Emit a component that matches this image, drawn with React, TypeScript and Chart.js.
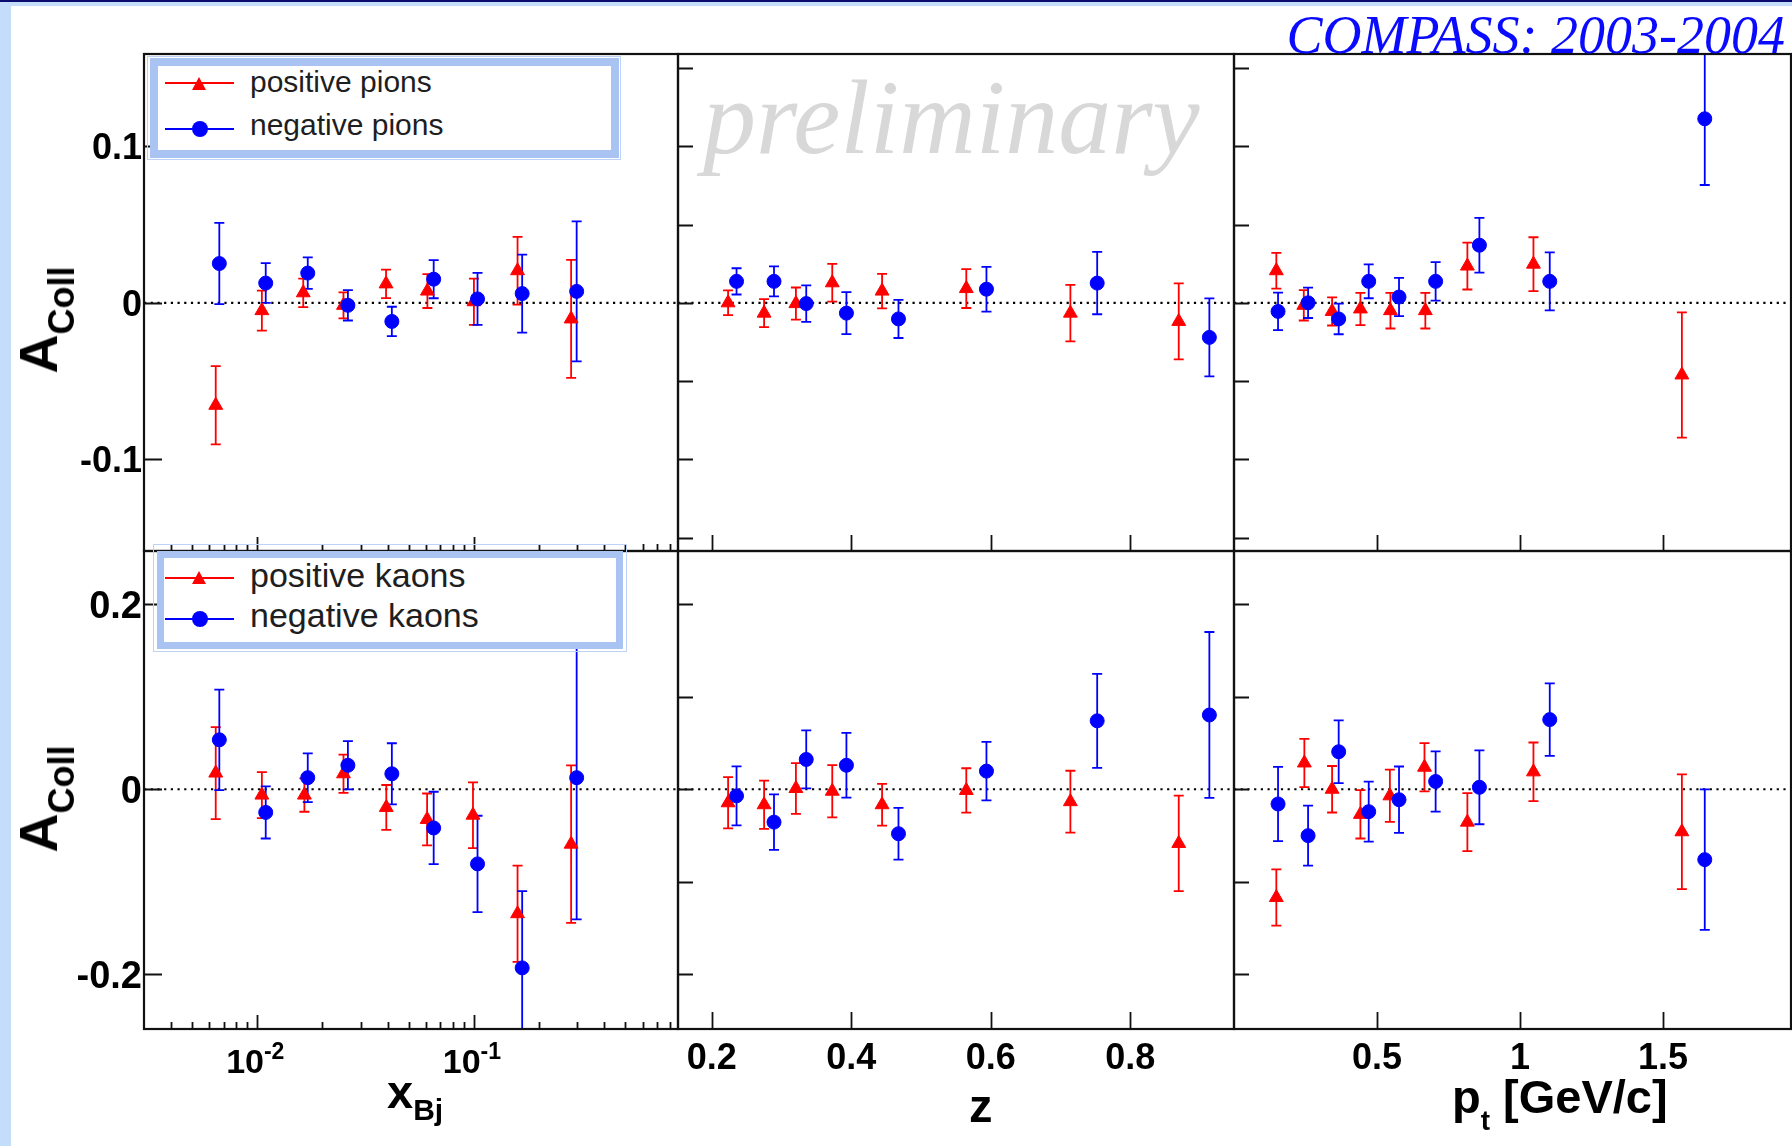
import React, { useEffect, useRef } from 'react';
import { Chart, registerables } from 'chart.js';

Chart.register(...registerables);

type Pt = [number, number, number]; // [x, A_Coll, error]

// ---------- pions ----------
const piPlusXbj: Pt[] = [
  [0.00643, -0.0655, 0.025],
  [0.0105, -0.005, 0.0128],
  [0.0163, 0.0064, 0.0091],
  [0.025, -0.0016, 0.0083],
  [0.0393, 0.0121, 0.0091],
  [0.061, 0.0075, 0.0108],
  [0.1, 0.0007, 0.0148],
  [0.159, 0.0205, 0.0217],
  [0.281, -0.0103, 0.0377],
];
const piMinusXbj: Pt[] = [
  [0.00668, 0.0251, 0.026],
  [0.01094, 0.0126, 0.0127],
  [0.0171, 0.019, 0.0101],
  [0.0262, -0.0016, 0.0097],
  [0.0418, -0.0119, 0.0094],
  [0.0652, 0.0151, 0.0122],
  [0.1039, 0.0025, 0.0166],
  [0.167, 0.0059, 0.0249],
  [0.298, 0.0073, 0.0447],
];
const piPlusZ: Pt[] = [
  [0.2235, 0.0, 0.0079],
  [0.2751, -0.0066, 0.009],
  [0.3207, -0.0005, 0.0103],
  [0.3728, 0.0128, 0.0121],
  [0.4442, 0.0075, 0.011],
  [0.5649, 0.0091, 0.0124],
  [0.7141, -0.0066, 0.018],
  [0.8694, -0.0119, 0.0243],
];
const piMinusZ: Pt[] = [
  [0.2356, 0.0137, 0.0084],
  [0.2893, 0.0137, 0.0096],
  [0.3355, -0.0005, 0.0117],
  [0.3931, -0.0066, 0.0134],
  [0.4677, -0.0103, 0.0122],
  [0.5938, 0.0087, 0.0143],
  [0.7525, 0.0126, 0.0199],
  [0.9133, -0.0221, 0.0249],
];
const piPlusPt: Pt[] = [
  [0.148, 0.0205, 0.0114],
  [0.244, -0.0016, 0.0097],
  [0.343, -0.0055, 0.009],
  [0.442, -0.0039, 0.0103],
  [0.547, -0.005, 0.0114],
  [0.669, -0.005, 0.0114],
  [0.816, 0.0235, 0.015],
  [1.047, 0.0247, 0.0172],
  [1.566, -0.0461, 0.04],
];
const piMinusPt: Pt[] = [
  [0.154, -0.0055, 0.012],
  [0.259, 0.0, 0.0097],
  [0.366, -0.0103, 0.0098],
  [0.471, 0.0137, 0.0108],
  [0.577, 0.0037, 0.0122],
  [0.705, 0.0137, 0.0123],
  [0.858, 0.0368, 0.0175],
  [1.104, 0.0137, 0.0185],
  [1.646, 0.1176, 0.0423],
];

// ---------- kaons ----------
const kPlusXbj: Pt[] = [
  [0.00643, 0.0175, 0.0497],
  [0.0105, -0.0063, 0.0249],
  [0.0165, -0.0063, 0.018],
  [0.025, 0.0167, 0.0207],
  [0.0394, -0.0196, 0.0242],
  [0.0608, -0.0326, 0.028],
  [0.099, -0.028, 0.0355],
  [0.159, -0.1344, 0.052],
  [0.281, -0.0593, 0.085],
];
const kMinusXbj: Pt[] = [
  [0.00668, 0.0534, 0.0543],
  [0.01094, -0.025, 0.0282],
  [0.0171, 0.0125, 0.0263],
  [0.0262, 0.0259, 0.0261],
  [0.0418, 0.0167, 0.033],
  [0.0652, -0.0418, 0.0391],
  [0.1039, -0.0806, 0.052],
  [0.167, -0.1929, 0.083],
  [0.298, 0.0125, 0.153],
];
const kPlusZ: Pt[] = [
  [0.2235, -0.0146, 0.0276],
  [0.2751, -0.0167, 0.0261],
  [0.3207, 0.0008, 0.0274],
  [0.3728, -0.0021, 0.0282],
  [0.4442, -0.0167, 0.0226],
  [0.5649, -0.0013, 0.024],
  [0.7141, -0.0134, 0.0334],
  [0.8694, -0.0585, 0.0516],
];
const kMinusZ: Pt[] = [
  [0.2356, -0.0071, 0.0318],
  [0.2893, -0.0355, 0.03],
  [0.3355, 0.0322, 0.0313],
  [0.3931, 0.0259, 0.0349],
  [0.4677, -0.048, 0.028],
  [0.5938, 0.0196, 0.0316],
  [0.7525, 0.0739, 0.0508],
  [0.9133, 0.0802, 0.0896],
];
const kPlusPt: Pt[] = [
  [0.148, -0.1169, 0.0303],
  [0.246, 0.0284, 0.0261],
  [0.343, 0.0, 0.0251],
  [0.442, -0.0271, 0.0261],
  [0.545, -0.0071, 0.0282],
  [0.666, 0.0238, 0.0261],
  [0.816, -0.0355, 0.0313],
  [1.047, 0.0188, 0.0317],
  [1.566, -0.0459, 0.0619],
];
const kMinusPt: Pt[] = [
  [0.154, -0.0159, 0.0401],
  [0.259, -0.0501, 0.0324],
  [0.366, 0.0405, 0.0338],
  [0.471, -0.0242, 0.0324],
  [0.577, -0.0113, 0.0359],
  [0.705, 0.0084, 0.0326],
  [0.858, 0.0021, 0.0399],
  [1.104, 0.0752, 0.0391],
  [1.646, -0.076, 0.0758],
];

// ---------- axes ----------
const pionYLabels = [-0.1, 0, 0.1];
const pionYTicks = [-0.15, -0.1, -0.05, 0, 0.05, 0.1, 0.15];
const kaonYLabels = [-0.2, 0, 0.2];
const kaonYTicks = [-0.2, -0.1, 0, 0.1, 0.2];
const pionYRange = [-0.1586, 0.159];
const kaonYRange = [-0.2589, 0.2573];
const xbjRange = [0.003, 0.875];
const zRange = [0.1517, 0.9486];
const ptRange = [0, 1.9475];
const xbjMajor = [0.01, 0.1];
const xbjMinor = [0.004, 0.005, 0.006, 0.007, 0.008, 0.009, 0.02, 0.03, 0.04, 0.05, 0.06, 0.07, 0.08, 0.09, 0.2, 0.3, 0.4, 0.5, 0.6, 0.7, 0.8];
const zTicks = [0.2, 0.4, 0.6, 0.8];
const ptTicks = [0.5, 1, 1.5];

const pionNames = ['positive pions', 'negative pions'];
const kaonNames = ['positive kaons', 'negative kaons'];

// ---------- style / layout ----------
const RED = '#ff0000';
const BLUE = '#0000ff';
const SANS = "'Liberation Sans', Arial, Helvetica, sans-serif";
const SERIF = "'Liberation Serif', 'Times New Roman', Times, serif";
const PAGE_W = 1792;
const PAGE_H = 1146;
const LIGHT = '#c3ddfa';
const NAVY = '#0c0c70';
const BAND = '#a9c3f2';
const THIN = '#bcd2f6';

interface PanelCfg {
  id: string;
  box: { l: number; t: number; r: number; b: number };
  xType: 'linear' | 'logarithmic';
  xr: number[];
  yr: number[];
  pos: Pt[];
  neg: Pt[];
  names: string[];
  yTicks: number[];
  yLabels: number[] | null;
  yLabelSize: number;
  yTickLen: number;
  xMajor: number[];
  xMinor: number[];
  xMajorLen: number;
  xMinorLen: number;
  xLabelMode: 'none' | 'axis' | 'log';
}

const COLS = [
  { l: 144, r: 678 },
  { l: 678, r: 1234 },
  { l: 1234, r: 1791 },
];
const ROWS = [
  { t: 54, b: 551 },
  { t: 551, b: 1029 },
];

const PANELS: PanelCfg[] = [
  {
    id: 'pi-xbj', box: { ...COLS[0], ...ROWS[0] }, xType: 'logarithmic', xr: xbjRange, yr: pionYRange,
    pos: piPlusXbj, neg: piMinusXbj, names: pionNames, yTicks: pionYLabels, yLabels: pionYLabels, yLabelSize: 36,
    yTickLen: 18, xMajor: xbjMajor, xMinor: xbjMinor, xMajorLen: 14, xMinorLen: 7, xLabelMode: 'none',
  },
  {
    id: 'pi-z', box: { ...COLS[1], ...ROWS[0] }, xType: 'linear', xr: zRange, yr: pionYRange,
    pos: piPlusZ, neg: piMinusZ, names: pionNames, yTicks: pionYTicks, yLabels: null, yLabelSize: 36,
    yTickLen: 15, xMajor: zTicks, xMinor: [], xMajorLen: 16, xMinorLen: 0, xLabelMode: 'none',
  },
  {
    id: 'pi-pt', box: { ...COLS[2], ...ROWS[0] }, xType: 'linear', xr: ptRange, yr: pionYRange,
    pos: piPlusPt, neg: piMinusPt, names: pionNames, yTicks: pionYTicks, yLabels: null, yLabelSize: 36,
    yTickLen: 15, xMajor: ptTicks, xMinor: [], xMajorLen: 16, xMinorLen: 0, xLabelMode: 'none',
  },
  {
    id: 'k-xbj', box: { ...COLS[0], ...ROWS[1] }, xType: 'logarithmic', xr: xbjRange, yr: kaonYRange,
    pos: kPlusXbj, neg: kMinusXbj, names: kaonNames, yTicks: kaonYLabels, yLabels: kaonYLabels, yLabelSize: 38,
    yTickLen: 18, xMajor: xbjMajor, xMinor: xbjMinor, xMajorLen: 14, xMinorLen: 7, xLabelMode: 'log',
  },
  {
    id: 'k-z', box: { ...COLS[1], ...ROWS[1] }, xType: 'linear', xr: zRange, yr: kaonYRange,
    pos: kPlusZ, neg: kMinusZ, names: kaonNames, yTicks: kaonYTicks, yLabels: null, yLabelSize: 38,
    yTickLen: 15, xMajor: zTicks, xMinor: [], xMajorLen: 17, xMinorLen: 0, xLabelMode: 'axis',
  },
  {
    id: 'k-pt', box: { ...COLS[2], ...ROWS[1] }, xType: 'linear', xr: ptRange, yr: kaonYRange,
    pos: kPlusPt, neg: kMinusPt, names: kaonNames, yTicks: kaonYTicks, yLabels: null, yLabelSize: 38,
    yTickLen: 15, xMajor: ptTicks, xMinor: [], xMajorLen: 17, xMinorLen: 0, xLabelMode: 'axis',
  },
];

function fmt(v: number): string {
  return String(+v.toFixed(3));
}

function panelPlugin(p: PanelCfg) {
  return {
    id: 'panel-' + p.id,
    beforeDatasetsDraw(chart: any) {
      const { ctx, chartArea: a } = chart;
      const xs = chart.scales.x;
      const ys = chart.scales.y;
      ctx.save();
      ctx.beginPath();
      ctx.rect(a.left, a.top, a.right - a.left, a.bottom - a.top);
      ctx.clip();
      // dotted zero line
      const y0 = ys.getPixelForValue(0);
      ctx.strokeStyle = '#000';
      ctx.lineWidth = 2.2;
      ctx.setLineDash([2.2, 4.5]);
      ctx.beginPath();
      ctx.moveTo(a.left, y0);
      ctx.lineTo(a.right, y0);
      ctx.stroke();
      ctx.setLineDash([]);
      // error bars (positive first, then negative)
      for (const i of [1, 0]) {
        const ds = chart.data.datasets[i];
        ctx.strokeStyle = ds.borderColor;
        ctx.lineWidth = 1.8;
        ctx.beginPath();
        for (const d of ds.data) {
          const px = xs.getPixelForValue(d.x);
          const pTop = ys.getPixelForValue(d.y + d.e);
          const pBot = ys.getPixelForValue(d.y - d.e);
          ctx.moveTo(px, pTop);
          ctx.lineTo(px, pBot);
          ctx.moveTo(px - 5, pTop);
          ctx.lineTo(px + 5, pTop);
          ctx.moveTo(px - 5, pBot);
          ctx.lineTo(px + 5, pBot);
        }
        ctx.stroke();
      }
      ctx.restore();
    },
    afterDraw(chart: any) {
      const { ctx, chartArea: a } = chart;
      const xs = chart.scales.x;
      const ys = chart.scales.y;
      ctx.save();
      ctx.strokeStyle = '#111';
      ctx.lineWidth = 1.8;
      ctx.beginPath();
      for (const v of p.yTicks) {
        const y = Math.round(ys.getPixelForValue(v)) + 0.5;
        ctx.moveTo(a.left, y);
        ctx.lineTo(a.left + p.yTickLen, y);
      }
      for (const v of p.xMajor) {
        const x = Math.round(xs.getPixelForValue(v)) + 0.5;
        ctx.moveTo(x, a.bottom);
        ctx.lineTo(x, a.bottom - p.xMajorLen);
      }
      for (const v of p.xMinor) {
        const x = Math.round(xs.getPixelForValue(v)) + 0.5;
        ctx.moveTo(x, a.bottom);
        ctx.lineTo(x, a.bottom - p.xMinorLen);
      }
      ctx.stroke();
      ctx.lineWidth = 2.2;
      ctx.strokeRect(a.left, a.top, a.right - a.left, a.bottom - a.top);
      if (p.xLabelMode === 'log') {
        ctx.fillStyle = '#000';
        ctx.textAlign = 'left';
        ctx.textBaseline = 'alphabetic';
        for (const v of p.xMajor) {
          const px = xs.getPixelForValue(v);
          const exp = String(Math.round(Math.log10(v)));
          ctx.font = `bold 34px ${SANS}`;
          const w1 = ctx.measureText('10').width;
          ctx.font = `bold 23px ${SANS}`;
          const w2 = ctx.measureText(exp).width;
          const x0 = px - (w1 + w2) / 2 - 2;
          ctx.font = `bold 34px ${SANS}`;
          ctx.fillText('10', x0, a.bottom + 44);
          ctx.font = `bold 23px ${SANS}`;
          ctx.fillText(exp, x0 + w1, a.bottom + 30);
        }
      }
      ctx.restore();
    },
  };
}

function buildConfig(p: PanelCfg): any {
  const showY = p.yLabels !== null;
  const showX = p.xLabelMode === 'axis';
  const { l, t, r, b } = p.box;
  const mk = (pts: Pt[]) => pts.map(([x, y, e]) => ({ x, y, e }));
  return {
    type: 'scatter',
    data: {
      datasets: [
        {
          label: p.names[1], data: mk(p.neg), pointStyle: 'circle', pointRadius: 7, pointHoverRadius: 7,
          backgroundColor: BLUE, borderColor: BLUE, borderWidth: 1, order: 0,
        },
        {
          label: p.names[0], data: mk(p.pos), pointStyle: 'triangle', pointRadius: 8, pointHoverRadius: 8,
          backgroundColor: RED, borderColor: RED, borderWidth: 1, order: 1,
        },
      ],
    },
    options: {
      responsive: false,
      maintainAspectRatio: false,
      animation: false,
      devicePixelRatio: 1,
      events: [],
      layout: {
        autoPadding: false,
        padding: { left: showY ? 0 : l, top: t, right: PAGE_W - r, bottom: showX ? 0 : PAGE_H - b },
      },
      plugins: { legend: { display: false }, tooltip: { enabled: false }, title: { display: false } },
      scales: {
        x: {
          type: p.xType, position: 'bottom', min: p.xr[0], max: p.xr[1], bounds: 'data', display: showX,
          grid: { display: false, drawTicks: false }, border: { display: false },
          ticks: {
            font: { family: SANS, size: 36, weight: 'bold', lineHeight: 1.2 }, color: '#000', padding: 8,
            maxRotation: 0, minRotation: 0, autoSkip: false, callback: (v: any) => fmt(Number(v)),
          },
          afterBuildTicks: (s: any) => {
            s.ticks = p.xMajor.map((v) => ({ value: v }));
          },
          afterFit: (s: any) => {
            if (showX) s.height = PAGE_H - b;
            s.paddingLeft = 0; s.paddingRight = 0; s.paddingTop = 0; s.paddingBottom = 0;
          },
        },
        y: {
          type: 'linear', position: 'left', min: p.yr[0], max: p.yr[1], bounds: 'data', display: showY,
          grid: { display: false, drawTicks: false }, border: { display: false },
          ticks: {
            font: { family: SANS, size: p.yLabelSize, weight: 'bold', lineHeight: 1.2 }, color: '#000', padding: 2,
            labelOffset: 3, autoSkip: false, callback: (v: any) => fmt(Number(v)),
          },
          afterBuildTicks: (s: any) => {
            s.ticks = (p.yLabels || []).map((v) => ({ value: v }));
          },
          afterFit: (s: any) => {
            if (showY) s.width = l;
            s.paddingLeft = 0; s.paddingRight = 0; s.paddingTop = 0; s.paddingBottom = 0;
          },
        },
      },
    },
    plugins: [panelPlugin(p)],
  };
}

function PanelChart({ p }: { p: PanelCfg }) {
  const ref = useRef<HTMLCanvasElement>(null);
  useEffect(() => {
    if (!ref.current) return;
    const chart = new Chart(ref.current, buildConfig(p));
    return () => chart.destroy();
  }, [p]);
  return (
    <canvas
      ref={ref}
      width={PAGE_W}
      height={PAGE_H}
      style={{ position: 'absolute', left: 0, top: 0, width: PAGE_W, height: PAGE_H }}
    />
  );
}

// baseline -> top for line-height:1 boxes
const sansTop = (baseline: number, fs: number) => baseline - 0.8465 * fs;
const serifTop = (baseline: number, fs: number) => baseline - 0.8375 * fs;

interface LegendProps {
  thin: { l: number; t: number; r: number; b: number };
  band: { l: number; t: number; r: number; b: number };
  bandW: number;
  fs: number;
  names: string[];
  rows: { lineY: number; baseline: number }[];
}

function Legend({ thin, band, bandW, fs, names, rows }: LegendProps) {
  const abs: React.CSSProperties = { position: 'absolute' };
  return (
    <>
      <div
        style={{ ...abs, left: thin.l, top: thin.t, width: thin.r - thin.l, height: thin.b - thin.t, border: `1px solid ${THIN}`, boxSizing: 'border-box' }}
      />
      <div
        style={{ ...abs, left: band.l, top: band.t, width: band.r - band.l, height: band.b - band.t, border: `${bandW}px solid ${BAND}`, boxSizing: 'border-box', background: '#fff' }}
      />
      {rows.map((row, i) => {
        const color = i === 0 ? RED : BLUE;
        return (
          <React.Fragment key={i}>
            <div style={{ ...abs, left: 165, top: row.lineY - 1, width: 69, height: 2, background: color }} />
            {i === 0 ? (
              <div
                style={{
                  ...abs, left: 199.5 - 7.5, top: row.lineY - 6.5, width: 0, height: 0,
                  borderLeft: '7.5px solid transparent', borderRight: '7.5px solid transparent', borderBottom: `13px solid ${color}`,
                }}
              />
            ) : (
              <div style={{ ...abs, left: 199.5 - 8, top: row.lineY - 8, width: 16, height: 16, borderRadius: '50%', background: color }} />
            )}
            <div
              style={{
                ...abs, left: 250, top: sansTop(row.baseline, fs), fontFamily: SANS, fontSize: fs, lineHeight: 1,
                color: '#1e1e1e', whiteSpace: 'nowrap',
              }}
            >
              {names[i]}
            </div>
          </React.Fragment>
        );
      })}
    </>
  );
}

export default function App() {
  const abs: React.CSSProperties = { position: 'absolute', whiteSpace: 'nowrap', lineHeight: 1 };
  const yTitle = (cy: number) => (
    <div
      style={{
        ...abs, left: 38, top: cy, transform: 'translate(-50%, -50%) rotate(-90deg)',
        fontFamily: SANS, fontWeight: 'bold', fontSize: 54, color: '#000',
      }}
    >
      A<span style={{ fontSize: 36, position: 'relative', top: 17 }}>Coll</span>
    </div>
  );
  return (
    <div style={{ position: 'absolute', left: 0, top: 0, width: PAGE_W, height: PAGE_H, background: '#fff', overflow: 'hidden' }}>
      {PANELS.map((p) => (
        <PanelChart key={p.id} p={p} />
      ))}

      {/* page decoration */}
      <div style={{ position: 'absolute', left: 0, top: 0, width: 11, height: PAGE_H, background: LIGHT }} />
      <div style={{ position: 'absolute', left: 0, top: 0, width: PAGE_W, height: 6, background: LIGHT }} />
      <div style={{ position: 'absolute', left: 0, top: 0, width: PAGE_W, height: 1.5, background: NAVY }} />

      {/* header texts */}
      <div
        style={{
          ...abs, right: PAGE_W - 1785, top: serifTop(53, 54), fontFamily: SERIF, fontStyle: 'italic',
          fontSize: 54, color: '#0a0aff',
        }}
      >
        COMPASS: 2003-2004
      </div>
      <div
        style={{
          ...abs, left: 703, top: serifTop(153.5, 106), fontFamily: SERIF, fontStyle: 'italic',
          fontSize: 106, color: '#d8d8d8',
        }}
      >
        preliminary
      </div>

      {/* legends */}
      <Legend
        thin={{ l: 146.5, t: 55.5, r: 621, b: 160 }}
        band={{ l: 149.5, t: 58, r: 618.5, b: 157.5 }}
        bandW={8}
        fs={30}
        names={pionNames}
        rows={[
          { lineY: 83, baseline: 92 },
          { lineY: 128.5, baseline: 135.5 },
        ]}
      />
      <Legend
        thin={{ l: 152.5, t: 544, r: 627, b: 652 }}
        band={{ l: 157, t: 550.5, r: 623, b: 648.5 }}
        bandW={7}
        fs={34}
        names={kaonNames}
        rows={[
          { lineY: 577.5, baseline: 586.5 },
          { lineY: 619.2, baseline: 627 },
        ]}
      />

      {/* axis titles */}
      {yTitle(319.5)}
      {yTitle(799)}
      <div style={{ ...abs, left: 387, top: sansTop(1108, 47), fontFamily: SANS, fontWeight: 'bold', fontSize: 47 }}>
        x<span style={{ fontSize: 30, position: 'relative', top: 12 }}>Bj</span>
      </div>
      <div style={{ ...abs, left: 969, top: sansTop(1122, 47), fontFamily: SANS, fontWeight: 'bold', fontSize: 47 }}>z</div>
      <div style={{ ...abs, left: 1452, top: sansTop(1113, 47), fontFamily: SANS, fontWeight: 'bold', fontSize: 47 }}>
        p<span style={{ fontSize: 28, position: 'relative', top: 17 }}>t</span> [GeV/c]
      </div>
    </div>
  );
}
